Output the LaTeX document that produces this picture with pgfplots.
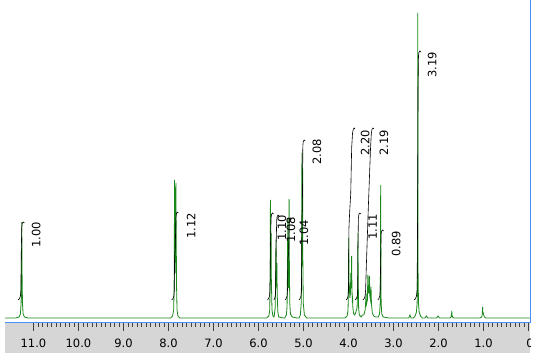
\documentclass[border=0pt]{standalone}
\usepackage{fontspec}
\setmainfont{DejaVu Sans}
\usepackage{pgfplots}
\pgfplotsset{compat=1.18}
\definecolor{specgreen}{RGB}{25,135,25}
\definecolor{axblue}{RGB}{70,145,245}
\definecolor{band}{RGB}{214,214,214}
\newcommand{\lab}{\fontsize{11.5}{13}\selectfont}
\begin{document}
\begin{tikzpicture}[x=1pt,y=1pt]
\useasboundingbox (-5,-38) rectangle (536,323);
\fill[band] (0,0) rectangle (525,-30);
\begin{axis}[
 at={(0,0)}, anchor=south west,
 scale only axis, width=525pt, height=323pt,
 x dir=reverse, xmin=-0.033, xmax=11.633, ymin=-5, ymax=318,
 axis x line*=bottom, axis y line=none,
 x axis line style={draw=axblue, line width=1pt, -},
 xtick={0,1,2,3,4,5,6,7,8,9,10,11},
 xticklabels={\hspace*{14pt}0.0,1.0,2.0,3.0,4.0,5.0,6.0,7.0,8.0,9.0,10.0,11.0},
 minor x tick num=9,
 tick align=outside,
 major tick length=8pt, minor tick length=4pt,
 every tick/.style={draw=black!75, line width=0.6pt},
 xticklabel style={font=\lab, yshift=-4pt},
 /pgf/number format/assume math mode=true,
 clip=true,
]
% spectrum
\addplot[specgreen, line width=0.8pt, no markers] coordinates {
(11.63,0)(11.40,0)(11.32,1)(11.29,4)(11.275,15)(11.265,50)(11.26,96)(11.255,50)(11.245,15)(11.23,4)(11.20,1)(11.12,0)
(7.95,0)(7.91,2)(7.885,8)(7.875,30)(7.868,100)(7.865,138)(7.86,90)(7.85,45)(7.84,100)(7.835,135)(7.83,90)(7.82,30)(7.81,8)(7.79,2)(7.75,0)
(5.82,0)(5.77,2)(5.75,8)(5.74,40)(5.735,118)(5.73,60)(5.725,40)(5.72,85)(5.715,40)(5.70,8)(5.68,2)(5.66,1)
(5.65,2)(5.63,10)(5.62,35)(5.615,60)(5.61,78)(5.605,40)(5.595,30)(5.59,55)(5.585,25)(5.57,6)(5.55,1)(5.45,0)
(5.42,0)(5.38,3)(5.365,12)(5.355,50)(5.35,100)(5.345,55)(5.335,30)(5.325,60)(5.32,119)(5.315,60)(5.305,15)(5.29,4)(5.25,1)(5.15,0)
(5.10,0)(5.07,3)(5.05,15)(5.04,60)(5.035,165)(5.03,80)(5.025,60)(5.02,150)(5.015,60)(5.005,15)(4.98,3)(4.93,0)
(4.08,0)(4.03,2)(4.01,8)(4.0,35)(3.995,80)(3.99,40)(3.98,25)(3.975,32)(3.97,20)(3.955,25)(3.95,45)(3.945,30)(3.935,30)(3.93,62)(3.925,35)(3.915,15)(3.91,22)(3.905,12)(3.89,5)(3.87,3)(3.85,4)
(3.81,10)(3.795,30)(3.79,85)(3.785,40)(3.775,10)(3.76,3)(3.72,1)(3.69,3)
(3.66,3)(3.63,8)(3.615,18)(3.61,25)(3.6,14)(3.58,18)(3.57,43)(3.56,25)(3.545,25)(3.535,42)(3.525,22)(3.51,18)(3.50,31)(3.49,14)(3.47,5)(3.44,2)(3.40,1)
(3.34,1)(3.31,4)(3.295,15)(3.29,50)(3.285,133)(3.28,50)(3.275,15)(3.26,4)(3.23,1)(3.1,0)
(2.66,0)(2.635,3)(2.61,0)
(2.56,0)(2.52,2)(2.49,6)(2.475,15)(2.465,50)(2.46,305)(2.455,50)(2.445,15)(2.43,6)(2.40,2)(2.36,0)
(2.30,0)(2.27,2)(2.24,0)(2.04,0)(2.01,2)(1.98,0)
(1.75,0)(1.72,1)(1.71,4)(1.705,7)(1.70,3)(1.69,1)(1.66,0)
(1.08,0)(1.04,1)(1.03,3)(1.02,11)(1.015,6)(1.005,5)(0.995,3)(0.98,1)(0.95,0)(-0.05,0)
};
% integrals
\addplot[black, line width=0.6pt, no markers] coordinates {(11.34,18)(11.31,19.5)(11.29,22)(11.28,28)(11.27,70)(11.26,90)(11.25,94.5)(11.23,96)(11.20,95)};
\addplot[black, line width=0.6pt, no markers] coordinates {(7.93,18)(7.90,19.5)(7.88,22)(7.87,28)(7.865,60)(7.85,70)(7.835,100)(7.825,104)(7.81,106)(7.78,105)};
\addplot[black, line width=0.6pt, no markers] coordinates {(5.80,18)(5.775,19.5)(5.755,22)(5.745,28)(5.735,70)(5.72,100)(5.71,103.5)(5.69,105)(5.665,104)};
\addplot[black, line width=0.6pt, no markers] coordinates {(5.66,18)(5.64,19.5)(5.625,22)(5.62,28)(5.61,70)(5.595,98)(5.585,101.5)(5.565,103)(5.54,102)};
\addplot[black, line width=0.6pt, no markers] coordinates {(5.41,18)(5.385,19.5)(5.365,22)(5.355,28)(5.345,60)(5.33,65)(5.32,95)(5.31,98.5)(5.29,100)(5.265,99)};
\addplot[black, line width=0.6pt, no markers] coordinates {(5.10,18)(5.075,19.5)(5.055,22)(5.045,28)(5.035,100)(5.025,110)(5.015,172)(5.005,176.5)(4.985,178)(4.96,177)};
\addplot[black, line width=0.6pt, no markers] coordinates {(4.05,18)(4.025,19.5)(4.01,22)(4.0,28)(3.99,90)(3.975,105)(3.95,125)(3.93,170)(3.91,185)(3.895,188.5)(3.875,190)(3.855,189)};
\addplot[black, line width=0.6pt, no markers] coordinates {(3.85,18)(3.825,19.5)(3.805,22)(3.795,28)(3.79,70)(3.78,100)(3.77,103.5)(3.75,105)(3.725,104)};
\addplot[black, line width=0.6pt, no markers] coordinates {(3.68,18)(3.65,19.5)(3.63,22)(3.62,28)(3.605,50)(3.575,90)(3.56,110)(3.535,140)(3.51,170)(3.495,183)(3.48,188.5)(3.46,190)(3.435,189)};
\addplot[black, line width=0.6pt, no markers] coordinates {(3.35,18)(3.325,19.5)(3.305,22)(3.295,28)(3.285,60)(3.275,84)(3.265,86.5)(3.245,88)(3.22,87)};
\addplot[black, line width=0.6pt, no markers] coordinates {(2.54,18)(2.51,19.5)(2.49,22)(2.475,28)(2.465,100)(2.455,230)(2.445,262)(2.435,265.5)(2.415,267)(2.39,266)};
% integral labels
\node[rotate=90, font=\lab] at (axis cs:10.94,83) {1.00};
\node[rotate=90, font=\lab] at (axis cs:7.50,92) {1.12};
\node[rotate=90, font=\lab] at (axis cs:5.48,90) {1.10};
\node[rotate=90, font=\lab] at (axis cs:5.28,88) {1.08};
\node[rotate=90, font=\lab] at (axis cs:4.99,85) {1.04};
\node[rotate=90, font=\lab] at (axis cs:4.70,166) {2.08};
\node[rotate=90, font=\lab] at (axis cs:3.63,175) {2.20};
\node[rotate=90, font=\lab] at (axis cs:3.46,91) {1.11};
\node[rotate=90, font=\lab] at (axis cs:3.21,175) {2.19};
\node[rotate=90, font=\lab] at (axis cs:2.94,74) {0.89};
\node[rotate=90, font=\lab] at (axis cs:2.14,253) {3.19};
\end{axis}
\fill[white] (525.6,-0.8) rectangle (537,-39);
\draw[axblue, line width=1pt] (525,0) -- (525,323);
\end{tikzpicture}
\end{document}
